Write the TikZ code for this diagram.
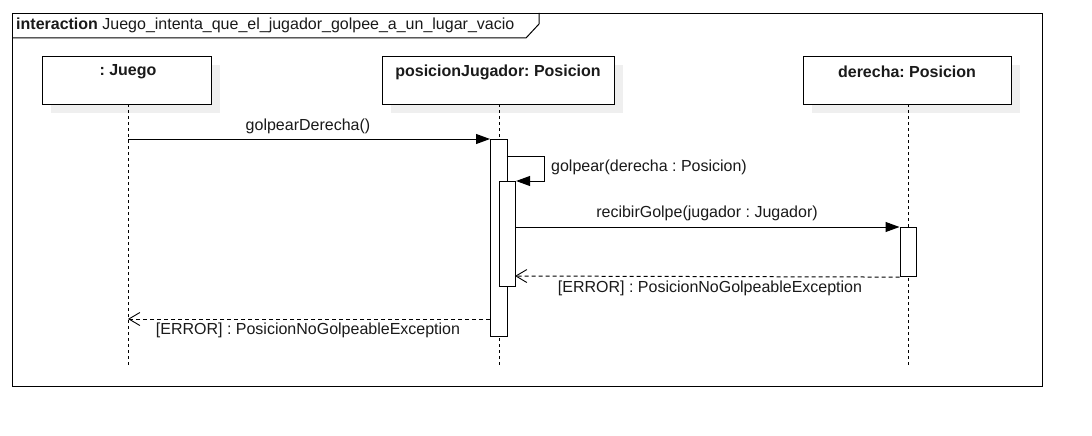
\documentclass[tikz,border=0pt]{standalone}
\usepackage{fontspec}
\setmainfont{Liberation Sans}
\usetikzlibrary{arrows.meta}
\frenchspacing
\definecolor{lineC}{HTML}{000000}
\definecolor{textC}{HTML}{1A1A1A}
\definecolor{shadowC}{HTML}{EFEFEF}
\begin{document}
\begin{tikzpicture}[x=1pt,y=-1pt,
  every node/.style={font=\fontsize{16}{19}\selectfont\frenchspacing, text=textC},
  lifebox/.style={draw=lineC, line width=1.1pt, fill=white, rectangle, inner sep=0pt},
  boxlabel/.style={font=\fontsize{16}{19}\selectfont\bfseries\frenchspacing, inner sep=0pt},
  lifeline/.style={draw=lineC, line width=1pt, dash pattern=on 3pt off 3pt},
  actbar/.style={draw=lineC, line width=1.1pt, fill=white, rectangle, inner sep=0pt, minimum width=16.5},
  callmsg/.style={draw=lineC, line width=1pt, -{Triangle[length=14pt,width=10pt]}},
  retmsg/.style={draw=lineC, line width=1pt, dash pattern=on 4pt off 3pt, -{Straight Barb[length=11pt,width=13pt,line width=0.9pt]}},
  msglabel/.style={inner sep=0pt}
]
\useasboundingbox (0,0) rectangle (1092,436);
\fill[white] (0,0) rectangle (1092,436);

% frame
\node[draw=lineC, line width=1.1pt, minimum width=1030, minimum height=373, inner sep=0pt, anchor=north west] (frame) at (12,13) {};
\coordinate (tabA) at (539,13);
\coordinate (tabB) at (539,24);
\coordinate (tabC) at (526,38);
\coordinate (tabD) at (12,38);
\draw[lineC, line width=1pt] (tabA) -- (tabB) -- (tabC) -- (tabD);
\node[anchor=west, inner sep=0pt] (title) at (16,25) {\textbf{interaction} Juego\_intenta\_que\_el\_jugador\_golpee\_a\_un\_lugar\_vacio};

% shadows
\fill[shadowC] (51,65) rectangle (220,113);
\fill[shadowC] (391,65) rectangle (623,113);
\fill[shadowC] (812,65) rectangle (1020,113);

% lifeline heads
\node[lifebox, minimum width=169, minimum height=48, anchor=north west] (juego) at (42,56) {};
\node[lifebox, minimum width=232, minimum height=48, anchor=north west] (posj) at (382,56) {};
\node[lifebox, minimum width=208, minimum height=48, anchor=north west] (der) at (803,56) {};
\node[boxlabel] (juegoT) at (128,72) {: Juego};
\node[boxlabel] (posjT) at (498,72) {posicionJugador: Posicion};
\node[boxlabel] (derT) at (907,72) {derecha: Posicion};

% lifelines
\coordinate (juegoTop) at (128,104);
\coordinate (juegoEnd) at (128,365);
\coordinate (posjTop) at (499,104);
\coordinate (posjEnd) at (499,365);
\coordinate (derTop) at (908,104);
\coordinate (derEnd) at (908,365);
\draw[lifeline] (juegoTop) -- (juegoEnd);
\draw[lifeline] (posjTop) -- (posjEnd);
\draw[lifeline] (derTop) -- (derEnd);

% activation bars
\node[actbar, minimum height=197, anchor=north west] (act1) at (490,139) {};
\node[actbar, minimum height=105, anchor=north west] (act2) at (498.5,181) {};
\node[actbar, minimum height=49, anchor=north west] (act3) at (899.5,227) {};

% messages
\coordinate (m1s) at (128,139);
\draw[callmsg] (m1s) -- (act1.north west);
\node[msglabel] (m1l) at (308,126) {golpearDerecha()};

\coordinate (s1) at (506.5,156);
\coordinate (s2) at (544,156);
\coordinate (s3) at (544,181);
\draw[callmsg] (s1) -- (s2) -- (s3) -- (act2.north east);
\node[msglabel, anchor=west] (m2l) at (551,167) {golpear(derecha : Posicion)};

\coordinate (m3s) at (515,227);
\draw[callmsg] (m3s) -- (act3.north west);
\node[msglabel] (m3l) at (707,213) {recibirGolpe(jugador : Jugador)};

\coordinate (m4e) at (515,276);
\draw[retmsg] (act3.south west) -- (m4e);
\node[msglabel] (m4l) at (710,288) {[ERROR] : PosicionNoGolpeableException};

\coordinate (m5s) at (490,319);
\coordinate (m5e) at (128,319);
\draw[retmsg] (m5s) -- (m5e);
\node[msglabel] (m5l) at (308,330) {[ERROR] : PosicionNoGolpeableException};
\end{tikzpicture}
\end{document}
